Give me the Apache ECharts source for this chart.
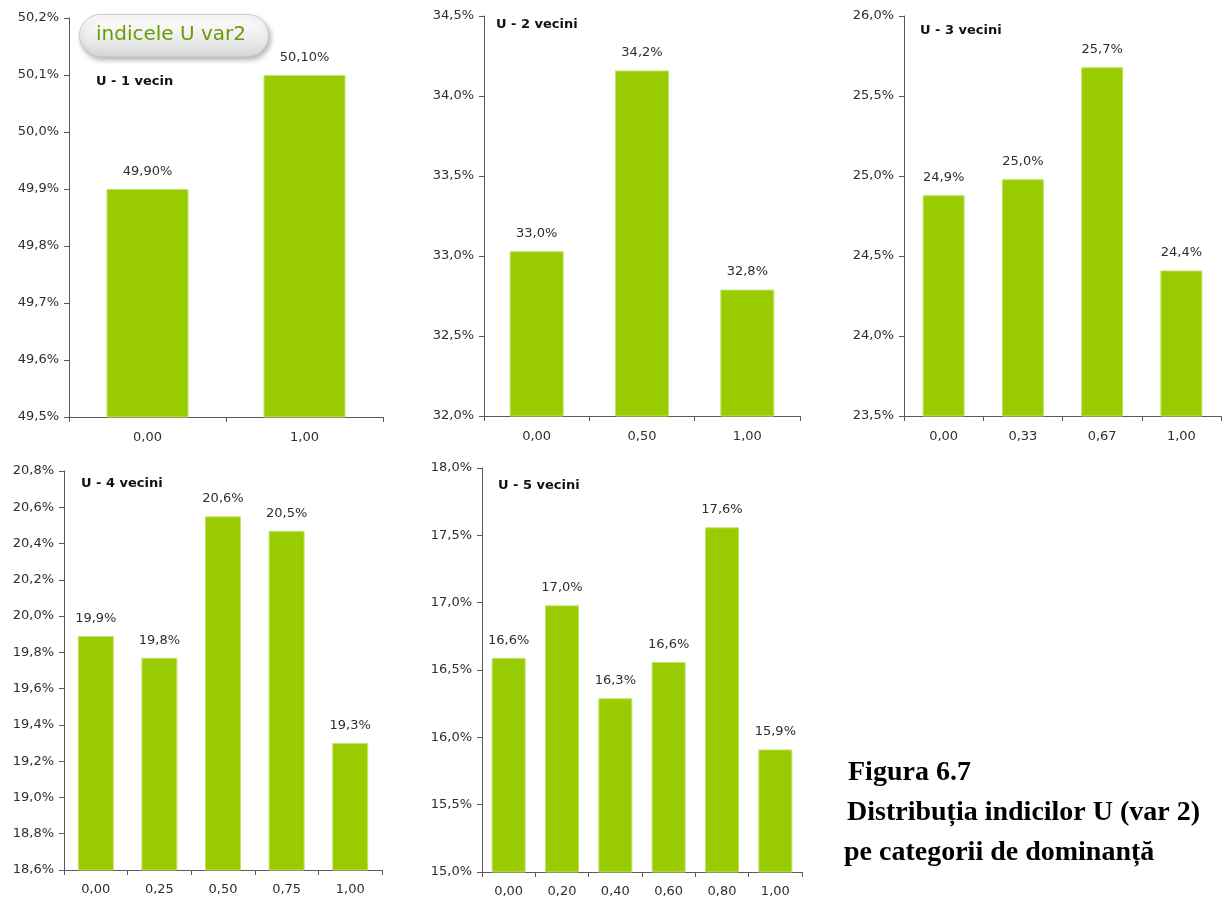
<!DOCTYPE html>
<html>
<head>
<meta charset="utf-8">
<script src="https://cdn.jsdelivr.net/npm/echarts@6/dist/echarts.min.js"></script>
<style>
html,body{margin:0;padding:0;background:#fff;}
#c{width:1231px;height:904px;}
</style>
</head>
<body>
<div id="c"></div>
<script>
// ---- data ----
const titles = ['U - 1 vecin', 'U - 2 vecini', 'U - 3 vecini', 'U - 4 vecini', 'U - 5 vecini'];
const cats1 = ['0,00', '1,00'];
const vals1 = [49.90, 50.10];
const cats2 = ['0,00', '0,50', '1,00'];
const vals2 = [33.03, 34.16, 32.79];
const cats3 = ['0,00', '0,33', '0,67', '1,00'];
const vals3 = [24.88, 24.98, 25.68, 24.41];
const cats4 = ['0,00', '0,25', '0,50', '0,75', '1,00'];
const vals4 = [19.89, 19.77, 20.55, 20.47, 19.30];
const cats5 = ['0,00', '0,20', '0,40', '0,60', '0,80', '1,00'];
const vals5 = [16.59, 16.98, 16.29, 16.56, 17.56, 15.91];
const yRanges = [[49.5, 50.2, 0.1], [32, 34.5, 0.5], [23.5, 26, 0.5], [18.6, 20.8, 0.2], [15, 18, 0.5]];
const labelDecimals = [2, 1, 1, 1, 1];
const badgeText = 'indicele U var2';
const caption = ['Figura 6.7', 'Distribuția indicilor U (var 2)', 'pe categorii de dominanță'];

// ---- layout / style ----
const cats = [cats1, cats2, cats3, cats4, cats5];
const vals = [vals1, vals2, vals3, vals4, vals5];
const grids = [
  {left: 69, top: 18, width: 314, height: 399},
  {left: 484, top: 16, width: 316, height: 400},
  {left: 904, top: 16, width: 317, height: 400},
  {left: 64, top: 471, width: 318, height: 399},
  {left: 482, top: 468, width: 320, height: 404}
];
const barWidths = [82, 54, 42, 36, 34];
const titlePos = [[96, 75], [496, 18], [920, 24], [81, 477], [498, 479]];
const BAR = '#99cc00';
const AX = '#5a5a5a';
const TXT = '#2e2e2e';
const FONT = '"DejaVu Sans", Verdana, sans-serif';
const SERIF = 'bold 28px "Liberation Serif", "DejaVu Serif", serif';

const fmt = (v, d) => v.toFixed(d).replace('.', ',') + '%';

const option = {
  backgroundColor: '#ffffff',
  animation: false,
  title: titles.map((t, i) => ({
    text: t, left: titlePos[i][0], top: titlePos[i][1], padding: 0,
    textStyle: {fontFamily: FONT, fontSize: 13, fontWeight: 'bold', color: '#111'}
  })),
  grid: grids.map(g => Object.assign({containLabel: false}, g)),
  xAxis: cats.map((c, i) => ({
    type: 'category', gridIndex: i, data: c,
    axisLine: {show: true, lineStyle: {color: AX, width: 1}},
    axisTick: {show: true, length: 5, lineStyle: {color: AX}},
    axisLabel: {color: TXT, fontFamily: FONT, fontSize: 13, margin: i < 3 ? 14 : 13},
    splitLine: {show: false}
  })),
  yAxis: yRanges.map((r, i) => ({
    type: 'value', gridIndex: i, min: r[0], max: r[1], interval: r[2],
    axisLine: {show: true, lineStyle: {color: AX, width: 1}},
    axisTick: {show: true, length: 5, lineStyle: {color: AX}},
    axisLabel: {color: TXT, fontFamily: FONT, fontSize: 13, margin: 10,
      formatter: v => fmt(v, 1)},
    splitLine: {show: false}
  })),
  series: vals.map((v, i) => ({
    type: 'bar', xAxisIndex: i, yAxisIndex: i, data: v,
    barWidth: barWidths[i],
    itemStyle: {color: BAR, borderColor: '#c2e36a', borderWidth: 1},
    label: {show: true, position: 'top', distance: 11, color: TXT,
      fontFamily: FONT, fontSize: 13,
      formatter: p => fmt(p.value, labelDecimals[i])}
  })),
  graphic: [
    {
      type: 'rect', left: 79, top: 14, z: 100,
      shape: {width: 189, height: 42, r: 21},
      style: {
        fill: {type: 'linear', x: 0, y: 0, x2: 0, y2: 1, colorStops: [
          {offset: 0, color: '#ffffff'}, {offset: 0.5, color: '#f0f0f0'}, {offset: 1, color: '#d6d6d6'}]},
        stroke: '#c9c9d2', lineWidth: 1,
        shadowBlur: 5, shadowOffsetX: 2, shadowOffsetY: 3, shadowColor: 'rgba(0,0,0,0.28)'
      }
    },
    {
      type: 'text', x: 171, y: 35, z: 101,
      style: {text: badgeText, fill: '#6a9c00', font: '20px "DejaVu Sans", Verdana, sans-serif',
        textAlign: 'center', textVerticalAlign: 'middle'}
    },
    {
      type: 'text', x: 848, y: 773, z: 101,
      style: {text: caption[0], fill: '#000', font: SERIF, textAlign: 'left', textVerticalAlign: 'middle'}
    },
    {
      type: 'text', x: 847, y: 813, z: 101,
      style: {text: caption[1], fill: '#000', font: SERIF, textAlign: 'left', textVerticalAlign: 'middle'}
    },
    {
      type: 'text', x: 844, y: 853, z: 101,
      style: {text: caption[2], fill: '#000', font: SERIF, textAlign: 'left', textVerticalAlign: 'middle'}
    }
  ]
};

const chart = echarts.init(document.getElementById('c'), null, {renderer: 'canvas'});
chart.setOption(option);
</script>
</body>
</html>
